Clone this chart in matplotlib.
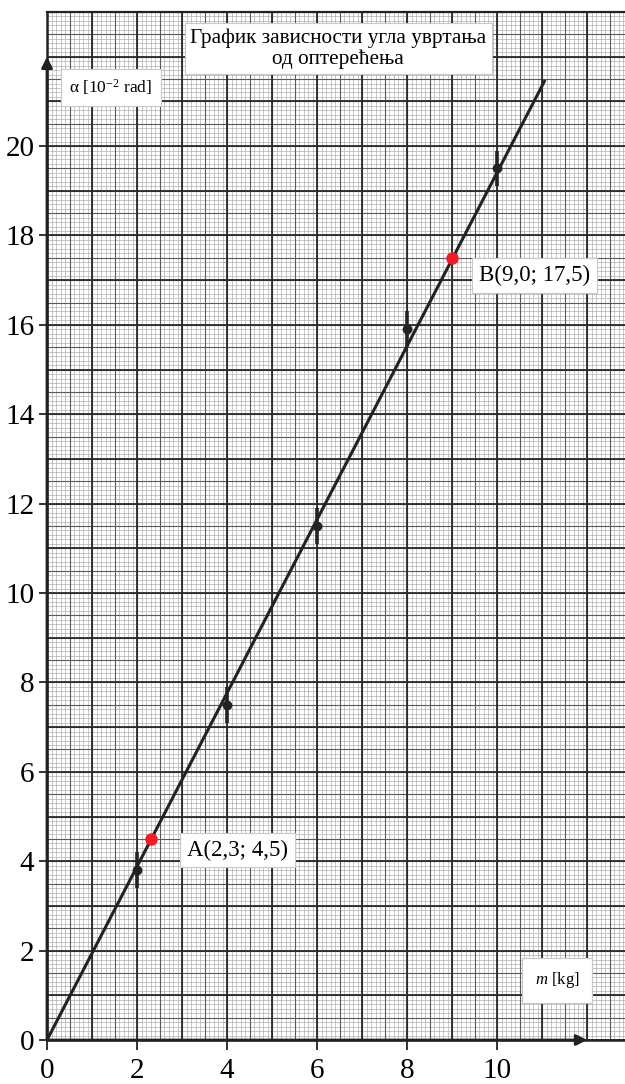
"""Torsion angle vs load, drawn on millimetre paper."""
import numpy as np
import matplotlib

matplotlib.use("Agg")
import matplotlib.pyplot as plt

plt.rcParams.update({
    "font.family": ["Liberation Serif", "DejaVu Serif"],
    "mathtext.fontset": "custom",
    "mathtext.rm": "Liberation Serif",
    "mathtext.it": "Liberation Serif:italic",
})

# measured points (m in kg, alpha in 1e-2 rad) with error bars
mass = [2, 4, 6, 8, 10]
alpha = [3.8, 7.5, 11.5, 15.9, 19.5]
alpha_err = [0.4, 0.4, 0.4, 0.4, 0.4]

# fitted line ends
fit_m = [0.0, 11.05]
fit_alpha = [0.0, 21.45]

pick_m = [2.3, 9.0]
pick_alpha = [4.5, 17.5]
pick_labels = ["A(2,3; 4,5)", "B(9,0; 17,5)"]

x_ticks = [0, 2, 4, 6, 8, 10]
y_ticks = [0, 2, 4, 6, 8, 10, 12, 14, 16, 18, 20]

XMAX, YMAX = 12.84, 23.0
INK = "#222222"
BOX = dict(boxstyle="square,pad=0.3", fc="white", ec="#c8c8c8", lw=0.8)

fig = plt.figure(figsize=(6.25, 10.84), dpi=100)
ax = fig.add_axes([47 / 625, 44 / 1084, 578 / 625, 1028 / 1084])
ax.set_xlim(0, XMAX)
ax.set_ylim(0, YMAX)

# graph paper: 0.1 / 0.5 / 1.0 lines
for step, col, lw in ((0.1, "#a8a8a8", 0.45), (0.5, "#5a5a5a", 0.8), (1.0, "#2a2a2a", 1.3)):
    ax.vlines(np.arange(0, XMAX + 1e-6, step), 0, YMAX, colors=col, lw=lw, zorder=1)
    ax.hlines(np.arange(0, YMAX + 1e-6, step), 0, XMAX, colors=col, lw=lw, zorder=1)

ax.spines["right"].set_visible(False)
for side, lw in (("top", 1.6), ("left", 1.8), ("bottom", 1.8)):
    ax.spines[side].set_linewidth(lw)
    ax.spines[side].set_color(INK)

# axis arrows
arrow = dict(arrowstyle="-|>", lw=2.0, color=INK, mutation_scale=16, shrinkA=0, shrinkB=0)
ax.annotate("", xy=(0, 22.0), xytext=(0, 0), arrowprops=arrow, zorder=5)
ax.annotate("", xy=(12.0, 0), xytext=(0, 0), arrowprops=arrow, zorder=5)

ax.set_xticks(x_ticks)
ax.set_yticks(y_ticks)
ax.tick_params(axis="x", direction="out", length=7, width=1.3, color=INK, labelsize=21, pad=6)
ax.tick_params(axis="y", direction="out", length=6, width=1.3, color=INK, labelsize=21, pad=3)

# fit line, measurements, picked points
ax.plot(fit_m, fit_alpha, color=INK, lw=2.2, zorder=4)
ax.errorbar(mass, alpha, yerr=alpha_err, fmt="o", color=INK, ms=6, elinewidth=2.6, capsize=0, zorder=5)
ax.plot(pick_m, pick_alpha, "o", color="#ee1c24", ms=8, zorder=6)

ax.text(4.24, 4.25, pick_labels[0], fontsize=16.5, ha="center", va="center", bbox=BOX, zorder=7)
ax.text(10.82, 17.11, pick_labels[1], fontsize=16.5, ha="center", va="center", bbox=BOX, zorder=7)

ax.text(6.47, 22.18, "График зависности угла увртања\nод оптерећења", fontsize=15.3,
        ha="center", va="center", linespacing=1.05, bbox=dict(BOX, boxstyle="square,pad=0.25"), zorder=7)
ax.text(1.42, 21.31, r"α [10$^{\mathregular{-2}}$ rad]", fontsize=12.5, ha="center", va="center",
        bbox=dict(BOX, boxstyle="square,pad=0.5"), zorder=7)
ax.text(11.33, 1.34, r"$\mathit{m}$ [kg]", fontsize=12, ha="center", va="center",
        bbox=dict(BOX, boxstyle="square,pad=0.75"), zorder=7)

fig.savefig("out.png", dpi=100)
